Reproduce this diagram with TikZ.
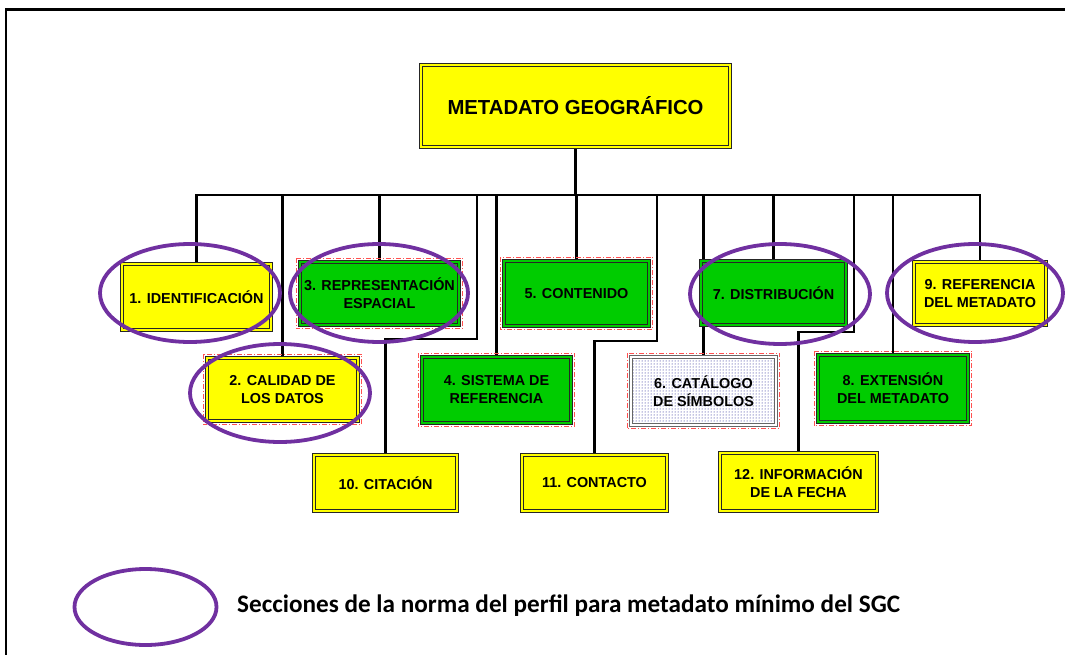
\documentclass[tikz,border=0pt]{standalone}
\usepackage{fontspec}
\setmainfont{Liberation Sans}
\newfontfamily\calibri{Carlito}
\usetikzlibrary{patterns}
\definecolor{ylw}{RGB}{255,255,0}
\definecolor{grn}{RGB}{0,204,0}
\definecolor{purp}{RGB}{112,48,160}
\definecolor{rdash}{RGB}{255,80,80}
\pgfdeclarelayer{bg}
\pgfsetlayers{bg,main}
\begin{document}
\begin{tikzpicture}[x=1pt,y=-1pt,
 box/.style={rectangle, draw=black!85, line width=0.7pt, double distance=2.2pt, inner sep=2pt, align=center, font=\fontsize{14.4}{18}\selectfont\bfseries, text=black},
 ybox/.style={box, fill=ylw, double=ylw},
 gbox/.style={box, fill=grn, double=grn},
 dbox/.style={box, draw=gray!80!black, double=white, pattern=dots, pattern color=blue!50!black},
 conn/.style={line width=2.9pt, black},
 ell/.style={draw=purp, line width=3.8pt},
 rfr/.style={draw=rdash, line width=0.9pt, dash pattern=on 5pt off 2pt on 1pt off 2pt},
]
\useasboundingbox (0,0) rectangle (1065,655);
% frame
\draw[line width=3pt] (5,9.5) -- (1065,9.5);
\draw[line width=2pt] (5.5,9) -- (5.5,655);

% nodes
\node[ybox, minimum width=309, minimum height=82, font=\fontsize{20.3}{24}\selectfont\bfseries] (main) at (575.5,106) {METADATO GEOGRÁFICO};
\node[ybox, minimum width=149, minimum height=66] (n1) at (196.5,297) {1. IDENTIFICACIÓN};
\node[gbox, minimum width=159, minimum height=63] (n3) at (379.5,293.5) {3. REPRESENTACIÓN\\ESPACIAL};
\node[gbox, minimum width=145, minimum height=65] (n5) at (576.5,293.5) {5. CONTENIDO};
\node[gbox, minimum width=145, minimum height=64] (n7) at (773.5,293) {7. DISTRIBUCIÓN};
\node[ybox, minimum width=132, minimum height=63] (n9) at (980,293.5) {9. REFERENCIA\\DEL METADATO};
\node[ybox, minimum width=151, minimum height=63] (n2) at (282.5,389.5) {2. CALIDAD DE\\LOS DATOS};
\node[gbox, minimum width=149, minimum height=66] (n4) at (496.5,390) {4. SISTEMA DE\\REFERENCIA};
\node[dbox, minimum width=145, minimum height=68] (n6) at (703.5,391) {6. CATÁLOGO\\DE SÍMBOLOS};
\node[gbox, minimum width=150, minimum height=67] (n8) at (893,388.5) {8. EXTENSIÓN\\DEL METADATO};
\node[ybox, minimum width=143, minimum height=56] (n10) at (385.5,483) {10. CITACIÓN};
\node[ybox, minimum width=145, minimum height=56] (n11) at (594.5,483) {11. CONTACTO};
\node[ybox, minimum width=157, minimum height=58] (n12) at (798.5,482) {12. INFORMACIÓN\\DE LA FECHA};

% connectors
\begin{pgfonlayer}{bg}
\coordinate (bl) at (196,195);
\coordinate (k10) at (477,339);
\coordinate (k11) at (657,341);
\coordinate (k12) at (854,332);
\draw[conn] (main.south) -- (main.south |- bl);
\draw[conn, line join=miter] (n1.north) -- (n1.north |- bl) -- (n9.north |- bl) -- (n9.north);
\draw[conn] (n2.north |- bl) -- (n2.north);
\draw[conn] (n3.north |- bl) -- (n3.north);
\draw[conn, line join=miter] (k10 |- bl) -- (k10) -| (n10.north);
\draw[conn] (n4.north |- bl) -- (n4.north);
\draw[conn] (n5.north |- bl) -- (n5.north);
\draw[conn, line join=miter] (k11 |- bl) -- (k11) -| (n11.north);
\draw[conn] (n6.north |- bl) -- (n6.north);
\draw[conn] (n7.north |- bl) -- (n7.north);
\draw[conn, line join=miter] (k12 |- bl) -- (k12) -| (n12.north);
\draw[conn] (n8.north |- bl) -- (n8.north);
\end{pgfonlayer}

% red dash-dot frames
\foreach \n in {n2,n3,n4,n5,n6,n8}{
  \draw[rfr] ([shift={(-3.5pt,3.5pt)}]\n.north west) rectangle ([shift={(3.5pt,-3.5pt)}]\n.south east);
}

% purple ellipses
\draw[ell] (190,293) ellipse [x radius=90pt, y radius=49pt];
\draw[ell] (379,293) ellipse [x radius=89pt, y radius=49pt];
\draw[ell] (780,294) ellipse [x radius=90pt, y radius=50pt];
\draw[ell] (975,293) ellipse [x radius=88pt, y radius=49pt];
\draw[ell] (280,393) ellipse [x radius=90pt, y radius=49pt];

% legend
\draw[ell] (145.5,607) ellipse [x radius=71pt, y radius=38pt];
\node[anchor=west, inner sep=0pt, font=\calibri\fontsize{25.2}{30}\selectfont\bfseries] (leg) at (237,606) {Secciones de la norma del perfil para metadato mínimo del SGC};
\end{tikzpicture}
\end{document}
